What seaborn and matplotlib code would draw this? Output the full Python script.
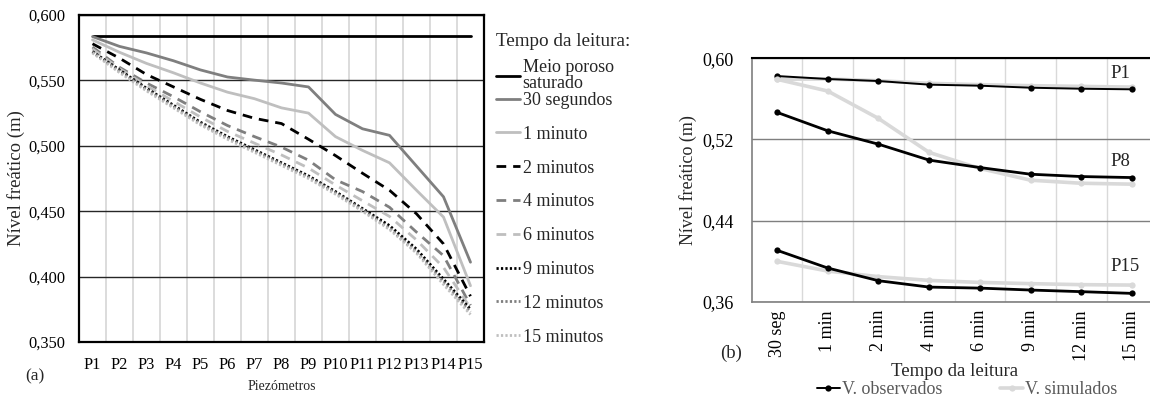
import matplotlib
matplotlib.use("Agg")
import matplotlib.pyplot as plt
import seaborn as sns
import pandas as pd
import numpy as np
from matplotlib.ticker import FixedLocator, FuncFormatter

sns.set_theme(style="white")
plt.rcParams['font.family'] = ['Liberation Serif', 'DejaVu Serif']

# ---------------- data (a) ----------------
piezometros = [f"P{i}" for i in range(1, 16)]
meio_saturado = [0.584] * 15
seg30 = [0.5835, 0.576, 0.571, 0.565, 0.558, 0.5526, 0.5502, 0.548, 0.545, 0.524, 0.513, 0.508, 0.4845, 0.461, 0.411]
min1 = [0.581, 0.5715, 0.563, 0.5558, 0.548, 0.541, 0.536, 0.529, 0.525, 0.507, 0.4965, 0.487, 0.466, 0.4455, 0.393]
min2 = [0.578, 0.567, 0.5545, 0.545, 0.5355, 0.527, 0.521, 0.517, 0.505, 0.4925, 0.479, 0.466, 0.448, 0.425, 0.385]
min4 = [0.5755, 0.560, 0.548, 0.5375, 0.526, 0.5155, 0.507, 0.499, 0.489, 0.474, 0.465, 0.453, 0.434, 0.416, 0.378]
min6 = [0.574, 0.559, 0.546, 0.534, 0.522, 0.511, 0.502, 0.493, 0.483, 0.470, 0.458, 0.446, 0.428, 0.407, 0.376]
min9 = [0.572, 0.558, 0.544, 0.531, 0.518, 0.507, 0.497, 0.487, 0.477, 0.465, 0.452, 0.439, 0.421, 0.398, 0.375]
min12 = [0.5715, 0.557, 0.543, 0.530, 0.517, 0.506, 0.496, 0.486, 0.476, 0.464, 0.451, 0.437, 0.419, 0.396, 0.373]
min15 = [0.571, 0.556, 0.542, 0.529, 0.516, 0.505, 0.495, 0.485, 0.475, 0.463, 0.450, 0.436, 0.418, 0.394, 0.371]
series_a = ["Meio poroso\nsaturado", "30 segundos", "1 minuto", "2 minutos", "4 minutos",
            "6 minutos", "9 minutos", "12 minutos", "15 minutos"]
values_a = [meio_saturado, seg30, min1, min2, min4, min6, min9, min12, min15]
yticks_a = [0.350, 0.400, 0.450, 0.500, 0.550, 0.600]

# ---------------- data (b) ----------------
tempos = ["30 seg", "1 min", "2 min", "4 min", "6 min", "9 min", "12 min", "15 min"]
obs_p1 = [0.5825, 0.5796, 0.5776, 0.574, 0.573, 0.571, 0.570, 0.5694]
sim_p1 = [0.5793, 0.5796, 0.5779, 0.5753, 0.574, 0.573, 0.5723, 0.5716]
obs_p8 = [0.5467, 0.5285, 0.5153, 0.4996, 0.4923, 0.4857, 0.4834, 0.4824]
sim_p8 = [0.5793, 0.5677, 0.5407, 0.5072, 0.4914, 0.4798, 0.4768, 0.4759]
obs_p15 = [0.4107, 0.3932, 0.3807, 0.3744, 0.3734, 0.3715, 0.3699, 0.3682]
sim_p15 = [0.3998, 0.3902, 0.3847, 0.381, 0.379, 0.3778, 0.3768, 0.3764]
yticks_b = [0.36, 0.44, 0.52, 0.60]
point_labels = ["P1", "P8", "P15"]
label_levels = [0.585, 0.498, 0.395]

fig = plt.figure(figsize=(11.5, 3.99), dpi=100)

# ================= chart (a) =================
ax = fig.add_axes([79/1150, 1-342/399, (484-79)/1150, (342-15)/399])
styles = [
    dict(color="black", ls="-"),
    dict(color="#7f7f7f", ls="-"),
    dict(color="#bfbfbf", ls="-"),
    dict(color="black", ls=(0, (3.5, 2.5))),
    dict(color="#7f7f7f", ls=(0, (3.5, 2.5))),
    dict(color="#bfbfbf", ls=(0, (3.5, 2.5))),
    dict(color="black", ls=(0, (0.8, 0.8))),
    dict(color="#7f7f7f", ls=(0, (0.8, 0.8))),
    dict(color="#bfbfbf", ls=(0, (0.8, 0.8))),
]
for name, vals, st in zip(series_a, values_a, styles):
    df = pd.DataFrame({"P": piezometros, "v": vals})
    sns.lineplot(data=df, x="P", y="v", ax=ax, color=st["color"], linestyle=st["ls"],
                 linewidth=2.0, label=name, sort=False)

ax.set_xlim(-0.5, 14.5)
ax.set_ylim(0.350, 0.600)
ax.set_yticks(yticks_a)
ax.yaxis.set_major_formatter(FuncFormatter(lambda v, p: f"{v:.3f}".replace(".", ",")))
ax.set_xticks(range(15))
ax.set_xticklabels(piezometros)
ax.xaxis.set_minor_locator(FixedLocator(np.arange(0.5, 14, 1)))
ax.grid(True, which="minor", axis="x", color="#d9d9d9", linewidth=1.3)
ax.grid(True, which="major", axis="y", color="#262626", linewidth=1.0)
ax.grid(False, which="major", axis="x")
ax.tick_params(axis="both", which="both", length=0, labelsize=11.8, colors="black")
ax.tick_params(axis="x", pad=11)
ax.tick_params(axis="y", pad=10)
for side in ["left", "right", "top", "bottom"]:
    ax.spines[side].set_visible(True)
    ax.spines[side].set_color("black")
    ax.spines[side].set_linewidth(1.6)
ax.set_xlabel("Piezómetros", fontsize=10, labelpad=5)
ax.set_ylabel("Nível freático (m)", fontsize=13.5, labelpad=2)
ax.get_legend().remove()
handles, labels = ax.get_legend_handles_labels()
# title + first (two-line) entry
leg1 = fig.legend(handles[:1], labels[:1], loc="upper left", bbox_to_anchor=(496/1150, 1-33/399),
                  frameon=False, fontsize=13, title="Tempo da leitura:", title_fontsize=13.8,
                  alignment="left", handlelength=1.35, handletextpad=0.12,
                  borderaxespad=0, borderpad=0)
for t in leg1.get_texts():
    t.set_linespacing(0.95)
# remaining entries
leg2 = fig.legend(handles[1:], labels[1:], loc="upper left", bbox_to_anchor=(496/1150, 1-92/399),
                  frameon=False, fontsize=13, handlelength=1.35, handletextpad=0.12,
                  labelspacing=0.93, borderaxespad=0, borderpad=0)
fig.text(25/1150, 1-376/399, "(a)", fontsize=12.5, va="center")

# ================= chart (b) =================
bx = fig.add_axes([751.7/1150, 1-301.7/399, (1157.3-751.7)/1150, (301.7-58.3)/399])
pairs = [(obs_p1, sim_p1), (obs_p8, sim_p8), (obs_p15, sim_p15)]
for i, (o, s) in enumerate(pairs):
    dfs = pd.DataFrame({"t": tempos, "v": s})
    dfo = pd.DataFrame({"t": tempos, "v": o})
    sns.lineplot(data=dfs, x="t", y="v", ax=bx, color="#d9d9d9", linewidth=2.6, marker="o",
                 markersize=4.5, markeredgewidth=0, sort=False,
                 label="V. simulados" if i == 0 else None)
    sns.lineplot(data=dfo, x="t", y="v", ax=bx, color="black", linewidth=2.0 if i else 1.4,
                 marker="o", markersize=4.5, markeredgewidth=0, sort=False,
                 label="V. observados" if i == 0 else None)
bx.set_xlim(-0.5, 7.5)
bx.set_ylim(0.36, 0.60)
bx.set_yticks(yticks_b)
bx.yaxis.set_major_formatter(FuncFormatter(lambda v, p: f"{v:.2f}".replace(".", ",")))
bx.set_xticks(range(8))
bx.set_xticklabels(tempos, rotation=90)
bx.xaxis.set_minor_locator(FixedLocator(np.arange(0.5, 7, 1)))
bx.grid(True, which="minor", axis="x", color="#d9d9d9", linewidth=1.0)
bx.grid(True, which="major", axis="y", color="#7f7f7f", linewidth=1.0)
bx.grid(False, which="major", axis="x")
bx.tick_params(axis="both", which="both", length=0, labelsize=13, colors="black")
bx.tick_params(axis="x", pad=6)
bx.tick_params(axis="y", pad=13)
for side in ["left", "bottom"]:
    bx.spines[side].set_color("#7f7f7f")
    bx.spines[side].set_linewidth(1.2)
bx.spines["top"].set_color("black")
bx.spines["top"].set_linewidth(1.5)
bx.spines["right"].set_visible(False)
bx.set_xlabel("Tempo da leitura", fontsize=13.5, labelpad=2)
bx.set_ylabel("Nível freático (m)", fontsize=13, labelpad=4)
for txt, yv in zip(point_labels, label_levels):
    bx.text(6.57, yv, txt, fontsize=13.5, va="center", ha="left")
bx.get_legend().remove()
bh, bl = bx.get_legend_handles_labels()
order = [bl.index("V. observados"), bl.index("V. simulados")]
lg2 = fig.legend([bh[k] for k in order], [bl[k] for k in order], loc="center",
                 bbox_to_anchor=(967/1150, 1-390/399), ncol=2, frameon=False, fontsize=13,
                 handlelength=1.3, handletextpad=0.1, columnspacing=3.2, borderpad=0)
for t in lg2.get_texts():
    t.set_color("#595959")
fig.text(720/1150, 1-353/399, "(b)", fontsize=13.5, va="center")

fig.savefig("out.png", dpi=100)
